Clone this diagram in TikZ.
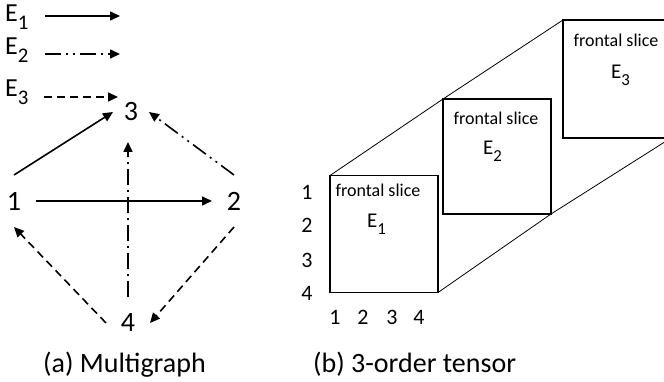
\documentclass[tikz,border=0pt]{standalone}
\usepackage{fontspec}
\setmainfont{Carlito}
\usetikzlibrary{arrows.meta,positioning}
\newcommand{\lowidx}[1]{\raisebox{-0.3em}{\scalebox{0.8}{#1}}}

\begin{document}
\begin{tikzpicture}[x=1pt,y=-1pt,
  vtx/.style={minimum width=44pt,minimum height=52pt,inner sep=0pt,outer sep=0pt,font=\fontsize{28}{30}\selectfont},
  edge/.style={line width=1.6pt,-{Triangle[length=10pt,width=9pt]}},
  ddot/.style={dash pattern=on 16pt off 5pt on 2pt off 5pt on 2pt off 5pt},
  dd/.style={dash pattern=on 16pt off 5pt on 2pt off 5pt},
  dsh/.style={dash pattern=on 8pt off 5pt},
  lgd/.style={inner sep=0pt,font=\fontsize{26}{28}\selectfont},
  slice/.style={draw,fill=white,line width=1.6pt,minimum width=108pt,minimum height=117pt,inner sep=0pt,outer sep=0pt},
  stxt/.style={inner sep=0pt,font=\fontsize{18}{20}\selectfont},
  etxt/.style={inner sep=0pt,font=\fontsize{21}{23}\selectfont},
  num/.style={inner sep=0pt,font=\fontsize{22}{24}\selectfont},
  captxt/.style={inner sep=0pt,font=\fontsize{28}{30}\selectfont}]
\clip (0,0) rectangle (664,382);

% legend
\node[lgd,anchor=base west] (l1) at (5,22) {E\lowidx{1}};
\node[lgd,anchor=base west] (l2) at (5,55) {E\lowidx{2}};
\node[lgd,anchor=base west] (l3) at (5,97) {E\lowidx{3}};
\coordinate (a1) at (45,16); \coordinate (b1) at (120,16);
\coordinate (a2) at (45,54); \coordinate (b2) at (120,54);
\coordinate (a3) at (44,97); \coordinate (b3) at (118,97);
\draw[edge] (a1) -- (b1);
\draw[edge,ddot] (a2) -- (b2);
\draw[edge,dsh] (a3) -- (b3);

% multigraph
\node[vtx] (n1) at (14,201) {1};
\node[vtx] (n2) at (234,201) {2};
\node[vtx,minimum width=36pt,minimum height=60pt] (n3) at (131,112) {3};
\node[vtx] (n4) at (128,323) {4};
\draw[edge] (n1.north) -- (n3.west);
\draw[edge,ddot] (n2.north) -- (n3.east);
\draw[edge,dd] (n4.north) -- (n4 |- n3.south);
\draw[edge] (n1.east) -- (n2.west);
\draw[edge,dsh] (n2.south) -- (n4.east);
\draw[edge,dsh] (n4.west) -- (n1.south);

% tensor
\node[slice] (f1) at (384,234) {};
\node[slice,minimum height=115pt] (f2) at (497,156.5) {};
\node[slice,minimum height=118pt] (f3) at (617,79) {};
\draw[line width=0.8pt] (f1.north west) -- (f2.north west) -- (f3.north west);
\draw[line width=0.8pt] (f1.south east) -- (f2.south east) -- (f3.south east);
\node[stxt,anchor=base] (s1) at (378,197) {frontal slice};
\node[stxt,anchor=base] (s2) at (496,125) {frontal slice};
\node[stxt,anchor=base] (s3) at (616,47) {frontal slice};
\node[etxt,anchor=base west] (e1) at (367,228) {E\lowidx{1}};
\node[etxt,anchor=base west] (e2) at (483,155) {E\lowidx{2}};
\node[etxt,anchor=base west] (e3) at (611,79) {E\lowidx{3}};
\foreach \r/\y in {1/200,2/233,3/267,4/300}
  \node[num,anchor=base] (r\r) at (307,\y) {\r};
\foreach \c/\x in {1/335,2/363,3/392,4/419}
  \node[num,anchor=base] (c\c) at (\x,324) {\c};

% captions
\node[captxt,anchor=base west] (capa) at (43,372) {(a) Multigraph};
\node[captxt,anchor=base west] (capb) at (313,372) {(b) 3-order tensor};
\end{tikzpicture}
\end{document}
